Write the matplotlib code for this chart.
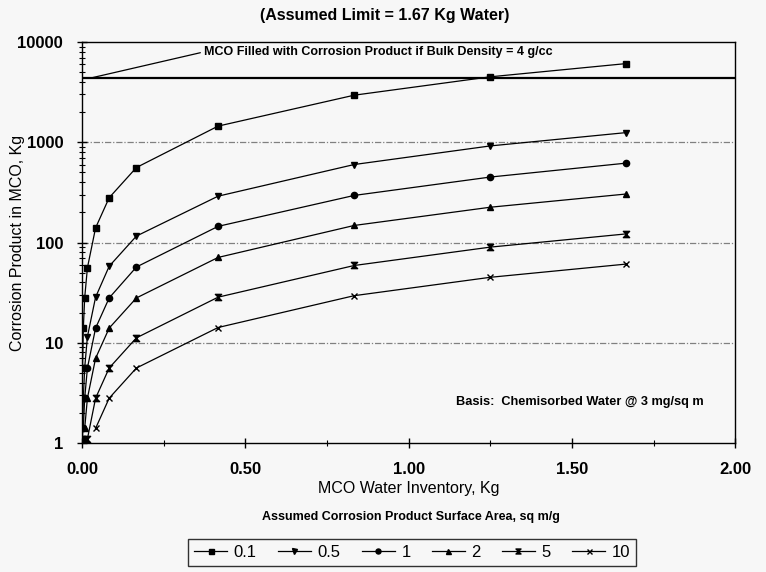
import numpy as np
import matplotlib.pyplot as plt
from matplotlib.path import Path
from matplotlib.ticker import FixedLocator, LogLocator, NullFormatter

plt.rcParams['font.family'] = ['Liberation Sans', 'DejaVu Sans']

nan = np.nan

# water inventory, kg
water = [0.0003, 0.0008, 0.0017, 0.0042, 0.0083, 0.0167, 0.0417,
         0.0833, 0.1667, 0.4167, 0.8333, 1.25, 1.6667]

# corrosion product, kg, one list per surface area (sq m/g)
areas = ['0.1', '0.5', '1', '2', '5', '10']
prod_01 = [1.1, 2.8, 5.6, 14, 28, 56, 140, 280, 560, 1450, 2950, 4500, 6100]
prod_05 = [nan, nan, 1.1, 2.8, 5.6, 11.5, 28.5, 58, 116, 290, 600, 920, 1250]
prod_1 = [nan, nan, nan, 1.4, 2.8, 5.6, 14, 28, 57, 145, 295, 450, 620]
prod_2 = [nan, nan, nan, nan, 1.4, 2.8, 7, 14, 28, 71, 148, 225, 305]
prod_5 = [nan, nan, nan, nan, nan, 1.1, 2.8, 5.6, 11.2, 28.5, 59, 90, 122]
prod_10 = [nan, nan, nan, nan, nan, nan, 1.4, 2.8, 5.6, 14.2, 29.5, 45, 61]

mco_full = 4400  # kg of corrosion product at 4 g/cc

hourglass = Path([(-1, 1), (1, 1), (0, 0), (-1, 1), (-1, -1), (1, -1), (0, 0), (-1, -1)],
                 [Path.MOVETO, Path.LINETO, Path.LINETO, Path.CLOSEPOLY,
                  Path.MOVETO, Path.LINETO, Path.LINETO, Path.CLOSEPOLY])
markers = ['s', 'v', 'o', '^', hourglass, 'x']
series = [prod_01, prod_05, prod_1, prod_2, prod_5, prod_10]

bg = '#f7f7f7'
fig = plt.figure(figsize=(7.66, 5.72), dpi=100, facecolor=bg)
ax = fig.add_axes([0.107, 0.2255, 0.853, 0.701], facecolor=bg)

ax.set_yscale('log')
ax.set_ylim(1, 10000)
ax.set_xlim(0, 2.0)

for y in [10, 100, 1000]:
    ax.axhline(y, color='#808080', lw=0.9, ls=(0, (5, 1.5, 1, 1.5)), zorder=1)
ax.axhline(mco_full, color='black', lw=1.6, zorder=2)

for vals, m, lab in zip(series, markers, areas):
    ax.plot(water, vals, color='black', lw=0.9, marker=m, ms=4.5,
            mfc='black', mec='black', mew=1, label=lab, zorder=3)

ax.annotate('MCO Filled with Corrosion Product if Bulk Density = 4 g/cc',
            xy=(0.03, mco_full), xytext=(0.375, 8000),
            fontsize=9, fontweight='bold', va='center', ha='left',
            arrowprops=dict(arrowstyle='-', color='black', lw=0.9,
                            shrinkA=1, shrinkB=0, relpos=(0, 0.5)))

ax.text(1.145, 2.55, 'Basis:  Chemisorbed Water @ 3 mg/sq m', fontsize=9.2,
        fontweight='bold', ha='left', va='center')

ax.set_yticks([1, 10, 100, 1000, 10000])
ax.set_yticklabels(['1', '10', '100', '1000', '10000'])
ax.yaxis.set_minor_locator(LogLocator(base=10, subs=np.arange(2, 10)))
ax.yaxis.set_minor_formatter(NullFormatter())
ax.set_xticks([0, 0.5, 1.0, 1.5, 2.0])
ax.set_xticklabels(['0.00', '0.50', '1.00', '1.50', '2.00'])
ax.xaxis.set_minor_locator(FixedLocator([0.25, 0.75, 1.25, 1.75]))

ax.tick_params(axis='both', which='major', direction='inout', length=7,
               width=1, labelsize=12)
ax.tick_params(axis='x', which='major', pad=10)
ax.tick_params(axis='y', which='major', pad=10)
ax.tick_params(axis='both', which='minor', direction='inout', length=5, width=0.8)
for lbl in ax.get_xticklabels() + ax.get_yticklabels():
    lbl.set_fontweight('bold')

for sp in ax.spines.values():
    sp.set_linewidth(1)

ax.set_xlabel('MCO Water Inventory, Kg', fontsize=11.5, labelpad=3)
ax.set_ylabel('Corrosion Product in MCO, Kg', fontsize=11.5)
ax.yaxis.set_label_coords(-0.087, 0.5)

fig.text(0.502, 0.973, '(Assumed Limit = 1.67 Kg Water)', ha='center', va='center',
         fontsize=11.5, fontweight='bold')
fig.text(0.537, 0.096, 'Assumed Corrosion Product Surface Area, sq m/g',
         ha='center', va='center', fontsize=9, fontweight='bold')

leg = fig.legend(loc='center', bbox_to_anchor=(0.538, 0.034), ncol=6, frameon=True,
                 fancybox=False, edgecolor='black', facecolor=bg, fontsize=12,
                 handlelength=2.0, handletextpad=0.4, columnspacing=1.25,
                 borderpad=0.35, markerscale=0.8)
leg.get_frame().set_linewidth(1)

fig.savefig('out.png', dpi=100, facecolor=bg)
